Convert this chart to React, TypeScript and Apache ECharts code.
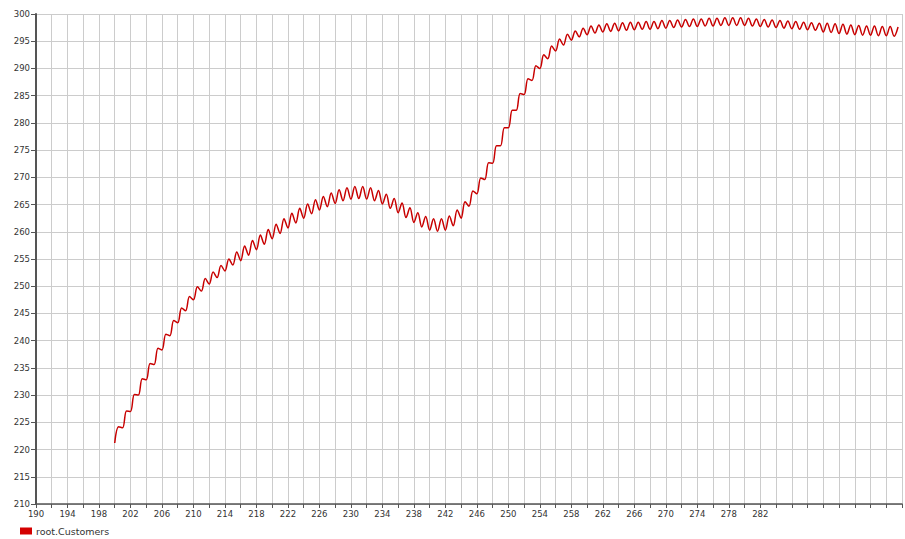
import React, { useEffect, useRef } from "react";
import * as echarts from "echarts";

const seriesName = "root.Customers";
const startTime = 200;
const timeStep = 0.5;
// readings every half time unit, starting at t = 200 (troughs on whole units, peaks in between)
const customers = [
  221.2, 224.2, 224.0, 227.1, 227.0, 230.1, 230.0, 233.0, 232.8, 235.8,
  235.6, 238.6, 238.3, 241.2, 240.9, 243.7, 243.3, 246.0, 245.5, 248.1,
  247.5, 249.9, 249.1, 251.4, 250.4, 252.6, 251.6, 253.8, 252.8, 255.0,
  253.9, 256.3, 254.7, 257.4, 255.7, 258.4, 256.7, 259.4, 257.7, 260.4,
  258.7, 261.4, 259.7, 262.4, 260.7, 263.4, 261.6, 264.3, 262.5, 265.1,
  263.3, 265.9, 264.0, 266.5, 264.6, 267.1, 265.2, 267.7, 265.7, 268.1,
  266.0, 268.3, 266.1, 268.3, 266.0, 268.1, 265.7, 267.6, 265.1, 266.9,
  264.3, 266.1, 263.5, 265.3, 262.6, 264.4, 261.7, 263.5, 260.9, 262.8,
  260.3, 262.4, 260.1, 262.4, 260.3, 262.9, 261.1, 264.0, 262.5, 265.5,
  264.7, 267.5, 267.0, 269.9, 269.6, 272.7, 272.6, 275.8, 275.8, 279.1,
  279.1, 282.3, 282.3, 285.4, 285.2, 288.1, 287.8, 290.5, 290.0, 292.5,
  291.8, 294.1, 293.2, 295.4, 294.3, 296.3, 295.2, 296.9, 295.8, 297.4,
  296.2, 297.8, 296.5, 298.0, 296.7, 298.2, 296.8, 298.3, 296.9, 298.4,
  297.0, 298.5, 297.1, 298.5, 297.2, 298.6, 297.2, 298.6, 297.3, 298.8,
  297.4, 298.8, 297.5, 298.9, 297.6, 299.0, 297.7, 299.1, 297.7, 299.1,
  297.8, 299.2, 297.8, 299.2, 297.9, 299.3, 297.9, 299.3, 297.9, 299.3,
  297.9, 299.2, 297.8, 299.1, 297.7, 299.0, 297.6, 298.9, 297.5, 298.8,
  297.4, 298.7, 297.3, 298.6, 297.2, 298.5, 297.1, 298.4, 297.0, 298.3,
  296.7, 298.3, 296.6, 298.2, 296.4, 298.1, 296.3, 298.0, 296.2, 297.9,
  296.1, 297.8, 296.1, 297.8, 296.0, 297.7, 296.0, 297.7, 295.9, 297.6,
];

const xMin = 190;
const xMax = 300;
const xStep = 2;
const xLabelEvery = 4;
const xLastLabel = 282;
const yMin = 210;
const yMax = 300;
const yStep = 5;

export default function App() {
  const ref = useRef<HTMLDivElement>(null);
  useEffect(() => {
    if (!ref.current) return;
    const chart = echarts.init(ref.current, undefined, { renderer: "svg" });
    const font = "DejaVu Sans";
    chart.setOption({
      animation: false,
      backgroundColor: "#ffffff",
      grid: { left: 36, top: 14, width: 872, height: 490, containLabel: false },
      legend: {
        left: 20,
        top: 526,
        padding: 0,
        itemWidth: 12,
        itemHeight: 7,
        itemGap: 10,
        icon: "rect",
        data: [{ name: seriesName, icon: "rect" }],
        textStyle: { fontFamily: font, fontSize: 9.5, color: "#333", padding: [0, 0, 0, -1] },
      },
      xAxis: {
        type: "value",
        min: xMin,
        max: xMax,
        interval: xStep,
        axisLine: { show: true, lineStyle: { color: "#555", width: 1.5 } },
        axisTick: { show: true, length: 4, lineStyle: { color: "#555" } },
        axisLabel: {
          margin: 5,
          fontFamily: font,
          fontSize: 8.5,
          color: "#333",
          showMaxLabel: true,
          formatter: (v: number) =>
            (v - xMin) % xLabelEvery === 0 && v <= xLastLabel ? String(v) : "",
        },
        splitLine: { show: true, lineStyle: { color: "#cccccc", width: 1 } },
      },
      yAxis: {
        type: "value",
        min: yMin,
        max: yMax,
        interval: yStep,
        axisLine: { show: true, lineStyle: { color: "#555", width: 2 } },
        axisTick: { show: true, length: 5, lineStyle: { color: "#555" } },
        axisLabel: { margin: 6, fontFamily: font, fontSize: 8.5, color: "#333" },
        splitLine: { show: true, lineStyle: { color: "#cccccc", width: 1 } },
      },
      series: [
        {
          name: seriesName,
          type: "line",
          showSymbol: false,
          smooth: 0.35,
          color: "#d40000",
          lineStyle: { color: "#c80000", width: 1.5 },
          data: customers.map((v, i) => [startTime + i * timeStep, v]),
        },
      ],
    });
    return () => chart.dispose();
  }, []);
  return (
    <div
      ref={ref}
      style={{ position: "fixed", left: 0, top: 0, width: 905, height: 539, overflow: "hidden", background: "#fff" }}
    />
  );
}
